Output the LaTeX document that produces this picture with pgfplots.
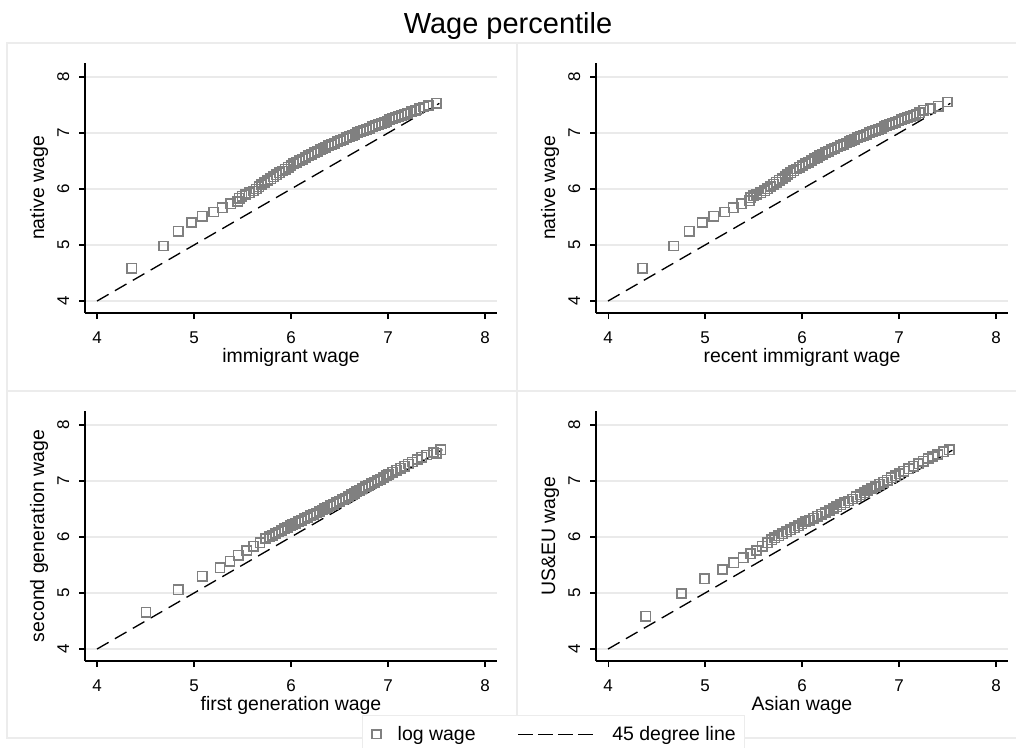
\documentclass[border=0pt]{standalone}
\usepackage{fontspec}
\setmainfont{Liberation Sans}
\usepackage{pgfplots}
\pgfplotsset{compat=1.18}
\definecolor{mk}{RGB}{128,128,128}
\definecolor{gridc}{RGB}{234,234,234}
\definecolor{boxc}{RGB}{236,236,236}
\newcommand{\tickfont}{\fontsize{12.75pt}{14pt}\selectfont}

\pgfplotsset{
 panel/.style={
  scale only axis, width=309pt, height=187.5pt,
  xmin=3.876, xmax=8.124, ymin=3.786, ymax=8.25,
  axis x line*=bottom, axis y line*=left,
  axis line style={line width=0.8pt, black},
  xtick={4,5,6,7,8}, ytick={4,5,6,7,8},
  tick align=outside, major tick length=4.5pt,
  tick style={line width=0.8pt, black},
  ymajorgrids, grid style={gridc, line width=1pt},
  /pgf/number format/assume math mode=true,
  xticklabel={\tickfont\pgfmathprintnumber{\tick}},
  yticklabel={\tickfont\pgfmathprintnumber{\tick}},
  every x tick label/.append style={anchor=base, yshift=-18pt, inner sep=0.5pt},
  every y tick label/.append style={rotate=90, anchor=base, yshift=7.5pt, inner sep=0.5pt},
  label style={font=\fontsize{14.6pt}{17pt}\selectfont, inner sep=0.5pt},
  xlabel style={at={(axis description cs:0.5,-0.199)}, anchor=base},
  ylabel style={at={(axis description cs:-0.0995,0.5)}, anchor=base},
 },
 qq/.style={only marks, mark=square, mark size=3.5pt, color=mk, mark options={line width=1.2pt, solid},
   legend image code/.code={\draw[mk, line width=1.1pt] (0pt,-3.3pt) rectangle (6.6pt,3.3pt);}},
 deg/.style={black, line width=1pt, dash pattern=on 10pt off 5.5pt, no marks,
   legend image code/.code={\draw[black, line width=1pt, dash pattern=on 11.25pt off 3.75pt] (0pt,0pt) -- (58pt,0pt);}},
}

\pgfplotstableread{
x y
4.357 4.589
4.684 4.982
4.838 5.244
4.973 5.400
5.086 5.512
5.203 5.589
5.292 5.667
5.378 5.738
5.450 5.775
5.465 5.835
5.495 5.870
5.530 5.900
5.570 5.930
5.610 5.965
5.640 6.000
5.670 6.040
5.700 6.080
5.730 6.115
5.760 6.150
5.790 6.185
5.820 6.220
5.850 6.255
5.880 6.290
5.910 6.322
5.940 6.355
5.970 6.387
6.000 6.420
6.030 6.449
6.060 6.477
6.090 6.506
6.120 6.534
6.150 6.563
6.180 6.591
6.210 6.619
6.240 6.646
6.270 6.673
6.300 6.700
6.330 6.724
6.360 6.748
6.390 6.772
6.420 6.796
6.450 6.820
6.480 6.844
6.510 6.868
6.540 6.890
6.570 6.912
6.600 6.935
6.630 6.957
6.660 6.980
6.690 7.002
6.720 7.025
6.750 7.045
6.780 7.065
6.810 7.087
6.840 7.108
6.870 7.129
6.900 7.150
6.930 7.171
6.960 7.192
6.990 7.213
7.020 7.234
7.050 7.255
7.080 7.276
7.110 7.297
7.140 7.316
7.170 7.335
7.200 7.355
7.240 7.381
7.280 7.407
7.320 7.432
7.370 7.465
7.420 7.492
7.500 7.530
}\immig

\pgfplotstableread{
x y
4.355 4.589
4.678 4.982
4.836 5.244
4.971 5.400
5.091 5.512
5.205 5.589
5.291 5.667
5.377 5.738
5.455 5.790
5.470 5.845
5.500 5.880
5.535 5.905
5.575 5.935
5.615 5.970
5.645 6.005
5.675 6.045
5.705 6.085
5.735 6.120
5.765 6.155
5.795 6.190
5.825 6.225
5.855 6.258
5.885 6.292
5.915 6.325
5.945 6.357
5.975 6.390
6.005 6.422
6.035 6.451
6.065 6.480
6.095 6.508
6.125 6.537
6.155 6.565
6.185 6.593
6.215 6.621
6.245 6.648
6.275 6.675
6.305 6.701
6.335 6.726
6.365 6.750
6.395 6.774
6.425 6.798
6.455 6.822
6.485 6.846
6.515 6.869
6.545 6.891
6.575 6.914
6.605 6.936
6.635 6.958
6.665 6.981
6.695 7.003
6.725 7.026
6.755 7.046
6.785 7.066
6.815 7.088
6.845 7.109
6.875 7.130
6.905 7.151
6.935 7.172
6.965 7.193
6.995 7.214
7.025 7.235
7.055 7.256
7.085 7.277
7.115 7.298
7.145 7.317
7.175 7.336
7.210 7.360
7.253 7.405
7.320 7.435
7.405 7.476
7.500 7.554
}\recent

\pgfplotstableread{
x y
4.505 4.660
4.838 5.058
5.086 5.302
5.268 5.450
5.371 5.569
5.457 5.676
5.543 5.759
5.612 5.837
5.680 5.896
5.739 5.973
5.780 6.005
5.810 6.033
5.840 6.062
5.870 6.090
5.900 6.118
5.930 6.146
5.960 6.175
5.990 6.200
6.020 6.218
6.050 6.244
6.080 6.270
6.110 6.297
6.140 6.323
6.170 6.350
6.200 6.376
6.230 6.402
6.260 6.429
6.290 6.455
6.320 6.482
6.350 6.508
6.380 6.534
6.410 6.561
6.440 6.587
6.470 6.614
6.500 6.640
6.530 6.668
6.560 6.696
6.590 6.725
6.620 6.753
6.650 6.781
6.680 6.809
6.710 6.837
6.740 6.866
6.770 6.894
6.800 6.922
6.830 6.950
6.860 6.978
6.890 7.007
6.920 7.035
6.950 7.063
6.980 7.091
7.010 7.119
7.050 7.156
7.090 7.193
7.130 7.230
7.170 7.267
7.210 7.304
7.250 7.340
7.300 7.385
7.350 7.425
7.400 7.465
7.470 7.510
7.500 7.495
7.543 7.560
}\gen

\pgfplotstableread{
x y
4.389 4.588
4.757 4.993
4.995 5.254
5.181 5.420
5.298 5.539
5.394 5.629
5.470 5.700
5.532 5.759
5.590 5.837
5.645 5.896
5.690 5.950
5.720 5.985
5.760 6.020
5.800 6.060
5.840 6.095
5.880 6.130
5.920 6.165
5.960 6.200
6.000 6.235
6.040 6.269
6.080 6.303
6.120 6.337
6.160 6.371
6.200 6.405
6.240 6.439
6.280 6.473
6.320 6.507
6.360 6.541
6.400 6.575
6.440 6.609
6.480 6.643
6.520 6.679
6.560 6.716
6.600 6.754
6.640 6.792
6.680 6.829
6.720 6.867
6.760 6.904
6.800 6.942
6.840 6.980
6.880 7.017
6.920 7.055
6.960 7.092
7.000 7.130
7.050 7.175
7.100 7.220
7.150 7.265
7.200 7.310
7.250 7.355
7.300 7.400
7.350 7.440
7.400 7.475
7.460 7.520
7.518 7.560
}\asian

\begin{document}
\begin{tikzpicture}
\useasboundingbox (0pt,0pt) rectangle (762pt,-560.25pt);
% panel frames
\draw[boxc, line width=0.9pt] (5.25pt,-32.25pt) rectangle (765pt,-553.5pt);
\draw[boxc, line width=0.9pt] (387.75pt,-32.25pt) -- (387.75pt,-553.5pt);
\draw[boxc, line width=0.9pt] (5.25pt,-293.25pt) -- (765pt,-293.25pt);
\node[anchor=base, font=\fontsize{21.75pt}{24pt}\selectfont] at (381pt,-24.75pt) {Wage percentile};

\begin{axis}[panel, at={(63.75pt,-234.75pt)}, anchor=south west,
  xlabel={immigrant wage}, ylabel={native wage}]
\addplot[qq] table[x=x,y=y] {\immig};
\addplot[deg] coordinates {(4,4) (7.53,7.53)};
\end{axis}

\begin{axis}[panel, at={(447pt,-234.75pt)}, anchor=south west,
  xlabel={recent immigrant wage}, ylabel={native wage}]
\addplot[qq] table[x=x,y=y] {\recent};
\addplot[deg] coordinates {(4,4) (7.53,7.53)};
\end{axis}

\begin{axis}[panel, at={(63.75pt,-495.75pt)}, anchor=south west,
  xlabel={first generation wage}, ylabel={second generation wage},
  legend columns=2,
  legend style={at={(axis description cs:0.672,-0.216)}, anchor=north west,
    draw=boxc, line width=0.9pt, inner xsep=6.75pt, inner ysep=8pt,
    font=\fontsize{14.6pt}{17pt}\selectfont, cells={anchor=west},
    nodes={inner sep=0pt},
    /tikz/every odd column/.append style={column sep=12pt},
    /tikz/every even column/.append style={column sep=31.5pt}},
  legend cell align=left]
\addplot[qq] table[x=x,y=y] {\gen};
\addlegendentry{log wage}
\addplot[deg] coordinates {(4,4) (7.56,7.56)};
\addlegendentry{45 degree line\hspace{6pt}}
\end{axis}

\begin{axis}[panel, at={(447pt,-495.75pt)}, anchor=south west,
  xlabel={Asian wage}, ylabel={US\&EU wage}]
\addplot[qq] table[x=x,y=y] {\asian};
\addplot[deg] coordinates {(4,4) (7.55,7.55)};
\end{axis}
\end{tikzpicture}
\end{document}
